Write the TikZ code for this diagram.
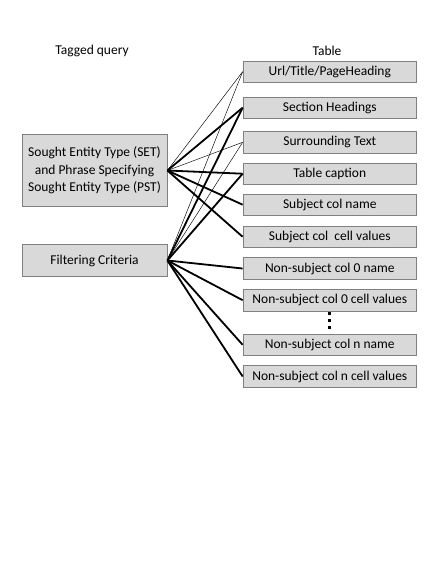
\documentclass[tikz,border=0pt]{standalone}
\usepackage{fontspec}
\setmainfont{Carlito}
\usetikzlibrary{positioning}
\definecolor{boxgray}{HTML}{D9D9D9}
\definecolor{edgegray}{HTML}{808080}

\begin{document}
\begin{tikzpicture}[x=1pt,y=-1pt,
    field/.style={draw=edgegray, fill=boxgray, line width=0.8pt, minimum width=173.5pt,
        minimum height=21.5pt, inner sep=0pt, font=\fontsize{13.5}{17.5}\selectfont},
    query/.style={field, minimum width=145pt, align=center},
    weak/.style={line width=0.45pt},
    strong/.style={line width=1.8pt}]
    % Page frame
    \useasboundingbox (0,0) rectangle (443,580);

    % Column headings
    \node[font=\fontsize{13.5}{16}\selectfont] (qhead) at (92,51) {Tagged query};
    \node[font=\fontsize{13.5}{16}\selectfont] (thead) at (327,51) {Table};

    % Query parts
    \node[query, minimum height=72.4pt] (set) at (94.5,170.5)
        {Sought Entity Type (SET)\\and Phrase Specifying\\Sought Entity Type (PST)};
    \node[query, minimum height=31.7pt] (filt) at (94.5,260.5) {Filtering Criteria};

    % Table fields
    \foreach \name/\y/\txt in {url/71.7/{Url/Title/PageHeading},
                               sec/107.7/Section Headings,
                               sur/142.3/Surrounding Text,
                               cap/173.7/Table caption,
                               scn/204.7/Subject col name,
                               scv/236.8/Subject col \ cell values,
                               nzn/268.5/Non-subject col 0 name,
                               nzv/300.2/Non-subject col 0 cell values,
                               nnn/344.8/Non-subject col n name,
                               nnv/376.5/Non-subject col n cell values} {
        \node[field] (\name) at (329.8,\y) {\txt};
    }

    % Gap dots
    \foreach \y in {313.5,320.5,327.5} {
        \fill (328.3,\y-1.5) rectangle (331.3,\y+1.5);
    }

    % Links from SET/PST
    \draw[weak] (set.east) -- (url.west);
    \draw[strong] (set.east) -- (sec.west);
    \draw[weak] (set.east) -- (sur.west);
    \foreach \to in {cap,scn,scv} {
        \draw[strong] (set.east) -- (\to.west);
    }

    % Links from filtering criteria
    \draw[weak] (filt.east) -- (url.west);
    \draw[weak] (filt.east) -- (sur.west);
    \foreach \to in {sec,cap,nzn,nzv,nnn,nnv} {
        \draw[strong] (filt.east) -- (\to.west);
    }

\end{tikzpicture}
\end{document}
